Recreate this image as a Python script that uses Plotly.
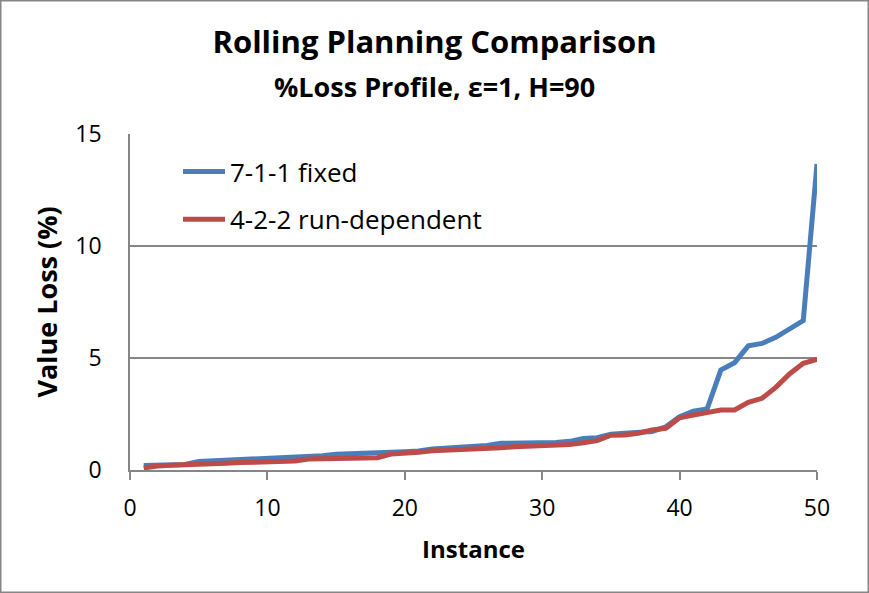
import plotly.graph_objects as go

instances = list(range(1, 51))

fixed_711 = [
    0.20, 0.22, 0.24, 0.25, 0.38, 0.41, 0.43, 0.46, 0.49, 0.51,
    0.52, 0.54, 0.57, 0.64, 0.70, 0.71, 0.74, 0.74, 0.79, 0.82,
    0.85, 0.94, 0.98, 1.01, 1.04, 1.09, 1.19, 1.19, 1.19, 1.22,
    1.23, 1.28, 1.41, 1.44, 1.60, 1.64, 1.70, 1.72, 1.93, 2.38,
    2.63, 2.72, 4.46, 4.79, 5.54, 5.65, 5.92, 6.32, 6.67, 13.66,
]

run_dep_422 = [
    0.09, 0.18, 0.21, 0.22, 0.24, 0.27, 0.30, 0.33, 0.34, 0.37,
    0.39, 0.40, 0.49, 0.50, 0.50, 0.52, 0.54, 0.55, 0.71, 0.74,
    0.79, 0.86, 0.88, 0.89, 0.92, 0.95, 0.99, 1.04, 1.06, 1.07,
    1.10, 1.14, 1.22, 1.31, 1.55, 1.56, 1.64, 1.79, 1.86, 2.33,
    2.45, 2.54, 2.68, 2.68, 3.02, 3.20, 3.69, 4.29, 4.76, 4.94,
]

series_names = ["7-1-1 fixed", "4-2-2 run-dependent"]
x_ticks = [0, 10, 20, 30, 40, 50]
y_ticks = [0, 5, 10, 15]

W, H = 869, 593
ML, MR, MT, MB = 130, 52, 134, 123
FONT = "Open Sans"
GRID = "#868686"

pw = W - ML - MR
ph = H - MT - MB


def px_x(p):
    # pixel column -> paper x
    return (p - ML) / pw


def px_y(p):
    # pixel row -> paper y
    return (H - MB - p) / ph


fig = go.Figure()
fig.add_trace(go.Scatter(x=instances, y=fixed_711, mode="lines", name=series_names[0],
                         legendgroup="a", line=dict(color="#4A7EBB", width=5)))
fig.add_trace(go.Scatter(x=instances, y=run_dep_422, mode="lines", name=series_names[1],
                         legendgroup="b", line=dict(color="#BE4B48", width=5)))

# chart-area border round the whole picture
fig.add_shape(type="rect", xref="paper", yref="paper",
              x0=px_x(0.75), x1=px_x(W - 0.75), y0=px_y(H - 0.75), y1=px_y(0.75),
              line=dict(color=GRID, width=1.5))

fig.add_annotation(text="<b>%Loss Profile, ε=1, H=90</b>", xref="paper", yref="paper",
                   x=px_x(W / 2), y=px_y(86), xanchor="center", yanchor="middle",
                   showarrow=False, font=dict(size=27, family=FONT, color="black"))

fig.update_layout(
    width=W, height=H,
    margin=dict(l=ML, r=MR, t=MT, b=MB),
    paper_bgcolor="white", plot_bgcolor="white",
    font=dict(family=FONT, color="black"),
    title=dict(text="<b>Rolling Planning Comparison</b>", x=0.5, xanchor="center",
               xref="container", y=1 - 42 / H, yanchor="middle", yref="container",
               font=dict(size=31, family=FONT)),
    showlegend=True,
    legend=dict(x=px_x(178), y=px_y(148), xanchor="left", yanchor="top",
                font=dict(size=26, family=FONT), bgcolor="rgba(0,0,0,0)",
                traceorder="grouped", tracegroupgap=11, itemwidth=42),
    xaxis=dict(range=[0, 50], tickvals=x_ticks, showgrid=False, zeroline=False,
               showline=True, linecolor=GRID, linewidth=1.5,
               ticks="outside", ticklen=8, tickwidth=1.5, tickcolor=GRID,
               tickfont=dict(size=23), ticklabelstandoff=9,
               title=dict(text="<b>Instance</b>", font=dict(size=24), standoff=19)),
    yaxis=dict(range=[0, 15], tickvals=y_ticks, showgrid=True, gridcolor=GRID, gridwidth=1.5,
               zeroline=False, showline=True, linecolor=GRID, linewidth=1.5,
               ticks="", tickfont=dict(size=23), ticklabelstandoff=22,
               title=dict(text="<b>Value Loss (%)</b>", font=dict(size=27), standoff=10)),
)

fig.write_html("out.html", config={"displayModeBar": False},
               post_script="document.body.style.margin='0';")
